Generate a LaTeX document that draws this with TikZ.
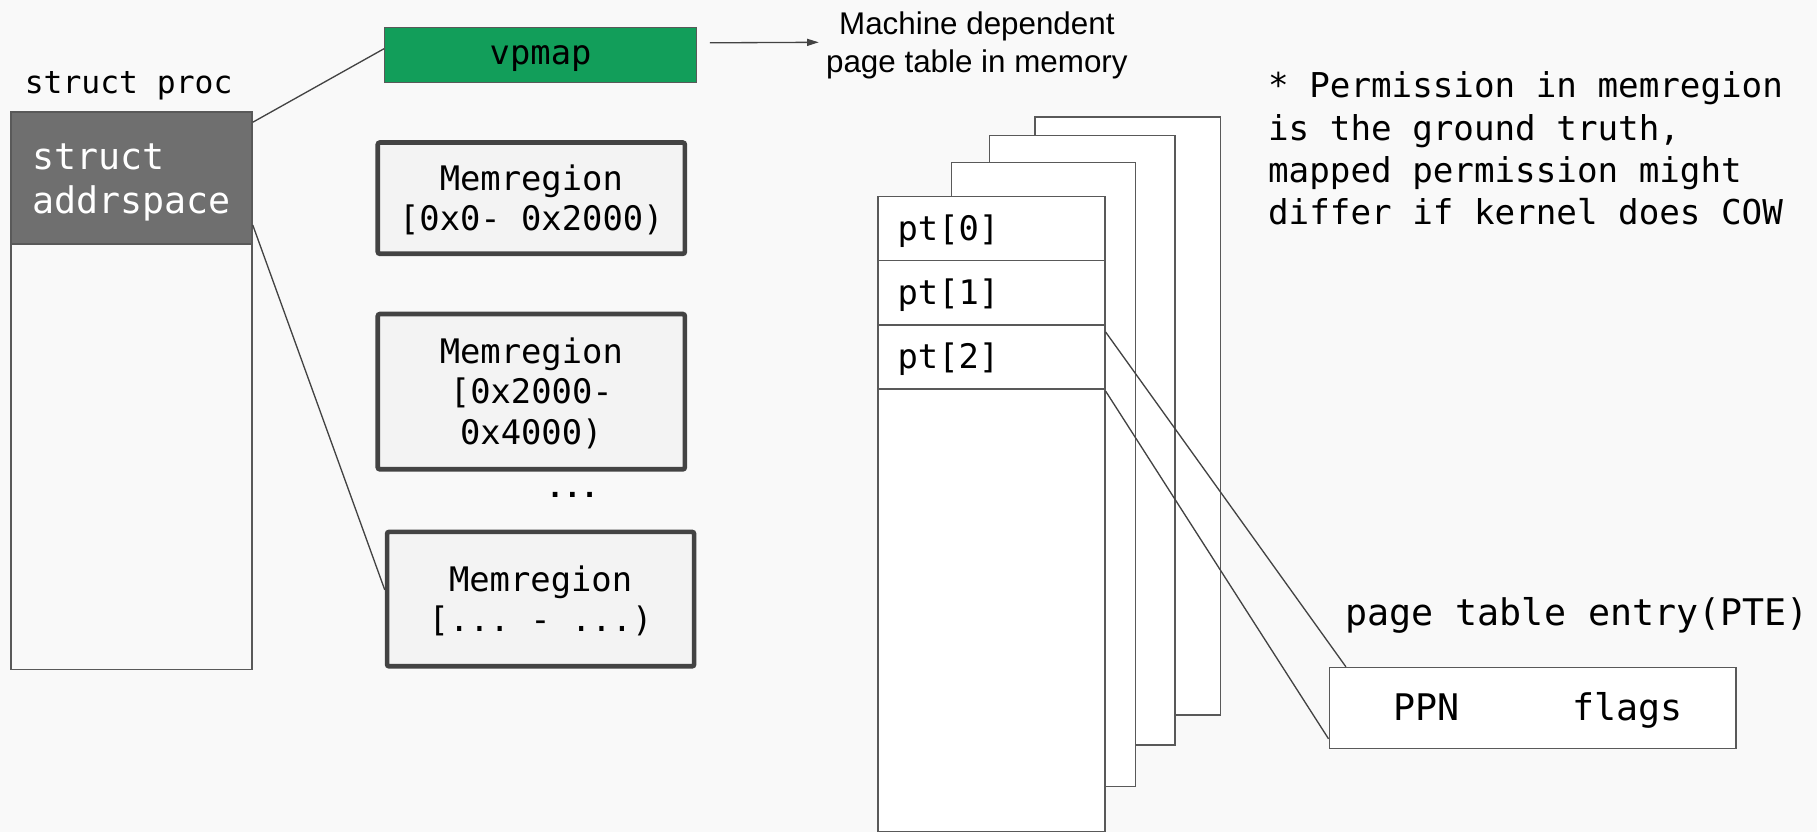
\documentclass[tikz,border=0pt]{standalone}
\usepackage{fontspec}
\setmainfont{Liberation Sans}
\setmonofont{DejaVu Sans Mono}
\usetikzlibrary{arrows.meta,calc}
\definecolor{bg}{HTML}{F9F9F9}
\definecolor{edge}{HTML}{595959}
\definecolor{thick}{HTML}{434343}
\definecolor{hdr}{HTML}{6F6F6F}
\definecolor{vpgreen}{HTML}{129E5A}
\definecolor{memfill}{HTML}{F3F3F3}
\newcommand\fMem{\fontsize{16.6pt}{19.8pt}\selectfont\ttfamily}
\newcommand\fAddr{\fontsize{18pt}{21.5pt}\selectfont\ttfamily}
\newcommand\fProc{\fontsize{15.4pt}{18pt}\selectfont\ttfamily}
\newcommand\fNote{\fontsize{16.8pt}{20.7pt}\selectfont\ttfamily}
\newcommand\fBig{\fontsize{18pt}{21pt}\selectfont\ttfamily}
\newcommand\fSans{\fontsize{15.4pt}{18.7pt}\selectfont\rmfamily}
% lower the visible text without changing the box used for centering
\newcommand\lowr[2]{\raisebox{-#1}[\height][\depth]{#2}}
\newcommand\stack[1]{\begin{tabular}{@{}c@{}}#1\end{tabular}}
\newcommand\lstack[1]{\begin{tabular}{@{}l@{}}#1\end{tabular}}
\begin{document}
\begin{tikzpicture}[x=0.02cm,y=-0.02cm,
  thin line/.style={draw=edge,line width=0.65pt},
  memregion/.style={draw=thick,line width=0.08cm,fill=memfill,rounded corners=1pt,
    minimum width=5.3cm,inner sep=0pt,font=\fMem},
  ptbox/.style={thin line,fill=white,inner sep=0pt},
  ptrow/.style={thin line,fill=white,anchor=north west,minimum width=3.92cm,
    inner xsep=0.34cm,inner ysep=0pt,text width=3.24cm,align=left,font=\fMem},
  link/.style={draw=thick,line width=0.65pt},
  plain/.style={inner sep=0pt}]
\fill[bg] (0,0) rectangle (1568,718);
\useasboundingbox (0,0) rectangle (1568,718);

% struct proc
\node[plain,font=\fProc] (proclabel) at (111,74) {struct proc};
\node[thin line,fill=bg,anchor=north west,minimum width=4.16cm,minimum height=9.62cm,inner sep=0pt] (proc) at (9,96) {};
\node[thin line,fill=hdr,anchor=north west,minimum width=4.16cm,minimum height=2.28cm,
  inner sep=0pt,text=white,font=\fAddr] (addr) at (9,96) {\lowr{0.08cm}{\lstack{struct\\addrspace}}};

% vpmap
\node[thin line,fill=vpgreen,minimum width=5.38cm,minimum height=0.94cm,inner sep=0pt,font=\fMem] (vpmap) at (466.5,47.5) {\lowr{0.06cm}{vpmap}};
\node[plain,font=\fSans,align=center] (mdtext) at (843,39) {Machine dependent\\page table in memory};
\coordinate (arrstart) at ($(vpmap.north east)+(11,13.5)$);
\draw[link,-{Triangle[length=0.2cm,width=0.12cm]}] (arrstart) -- ($(mdtext.west)+(-6,-2.5)$);

% memregions
\node[memregion,minimum height=1.92cm] (m1) at (458.5,171) {\lowr{0.07cm}{\stack{Memregion\\{[}0x0- 0x2000)}}};
\node[memregion,minimum height=2.68cm] (m2) at (458.5,338) {\lowr{0.07cm}{\stack{Memregion\\{[}0x2000-\\0x4000)}}};
\node[plain,anchor=base,font=\fontsize{14pt}{16pt}\selectfont\ttfamily\bfseries] (dots) at (494,429) {...};
\node[memregion,minimum height=2.32cm] (m3) at (466.5,517) {\lowr{0.07cm}{\stack{Memregion\\{[}... - ...)}}};

% links from addrspace
\draw[link] ($(addr.north east)+(0,9.5)$) -- ($(vpmap.west)+(0,-5.5)$);
\draw[link] ($(addr.south east)+(0,-17)$) -- ($(m3.west)+(0,-8)$);

% page tables (back to front)
\node[ptbox,minimum width=3.2cm,minimum height=10.32cm] (pt4) at (973,359) {};
\node[ptbox,minimum width=3.2cm,minimum height=10.52cm] (pt3) at (934,380) {};
\node[ptbox,minimum width=3.18cm,minimum height=10.78cm] (pt2box) at (900.5,409.5) {};
\node[ptrow,minimum height=1.1cm] (r0) at (757,169) {\lowr{0.04cm}{pt[0]}};
\node[ptrow,minimum height=1.12cm] (r1) at (757,224) {\lowr{0.04cm}{pt[1]}};
\node[ptrow,minimum height=1.1cm] (r2) at (757,280) {\lowr{0.04cm}{pt[2]}};
\node[ptrow,minimum height=7.64cm] (rest) at (757,335) {};

% PTE
\node[thin line,fill=white,minimum width=7.02cm,minimum height=1.4cm,inner sep=0pt,font=\fBig] (pte) at (1322.5,611) {\lowr{0.04cm}{\hspace{0.2cm}PPN\hspace{1.95cm}flags}};
\node[plain,font=\fBig] (ptelabel) at (1361,531) {page table entry(PTE)};
\draw[link] ($(r2.north east)+(0,6.5)$) -- ($(pte.north west)+(15,0)$);
\draw[link] ($(rest.north east)+(0,2.5)$) -- ($(pte.south west)+(0,-9)$);

% note
\node[plain,anchor=west,align=left,font=\fNote] (note) at (1094,128)
  {* Permission in memregion\\is the ground truth,\\mapped permission might\\differ if kernel does COW};
\end{tikzpicture}
\end{document}
